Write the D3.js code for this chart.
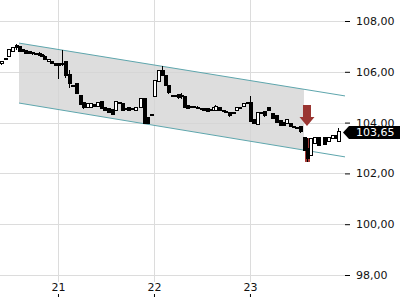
<!DOCTYPE html>
<html><head><meta charset="utf-8">
<script src="https://cdn.jsdelivr.net/npm/d3@7"></script>
<style>
html,body{margin:0;padding:0;background:#fff;}
svg{display:block;font-family:"DejaVu Sans",sans-serif;}
</style></head>
<body><svg id="c" width="400" height="300"></svg>
<script>
// ---- data ----
const times = [20.406,20.448,20.479,20.521,20.563,20.594,20.625,20.656,20.698,20.729,20.760,20.802,20.823,20.854,20.896,20.927,20.969,21.000,21.042,21.073,21.115,21.146,21.188,21.229,21.260,21.302,21.333,21.375,21.406,21.448,21.479,21.521,21.563,21.594,21.635,21.667,21.708,21.729,21.771,21.802,21.854,21.896,21.927,21.969,22.000,22.042,22.083,22.115,22.146,22.188,22.219,22.250,22.281,22.313,22.344,22.385,22.406,22.448,22.490,22.510,22.552,22.583,22.615,22.635,22.677,22.719,22.740,22.781,22.823,22.854,22.885,22.927,22.969,23.000,23.031,23.073,23.115,23.146,23.188,23.229,23.271,23.313,23.344,23.375,23.417,23.448,23.479,23.521,23.563,23.594,23.625,23.667,23.708,23.771,23.813,23.854,23.885,23.917];
const opens = [106.31,106.47,106.62,106.78,107.02,106.98,106.86,106.82,106.78,106.76,106.72,106.74,106.70,106.62,106.39,106.39,106.31,106.31,106.27,106.39,105.91,105.48,105.52,105.05,104.81,104.58,104.61,104.73,104.65,104.85,104.58,104.54,104.50,104.46,104.81,104.77,104.54,104.58,104.54,104.46,104.58,104.93,104.22,104.30,105.01,105.60,106.07,105.87,105.48,105.05,105.07,105.09,105.05,105.01,104.69,104.61,104.62,104.61,104.55,104.54,104.54,104.52,104.46,104.48,104.58,104.46,104.44,104.38,104.36,104.46,104.61,104.65,104.81,104.81,104.14,103.94,104.34,104.42,104.58,104.34,104.26,104.10,104.02,103.98,103.98,103.83,103.79,103.83,103.43,103.00,102.69,103.16,103.43,103.43,103.24,103.39,103.51,103.24];
const highs = [106.43,106.56,106.90,106.96,107.09,107.00,106.88,106.84,106.78,106.78,106.74,106.76,106.72,106.66,106.52,106.41,106.33,106.33,106.86,106.41,106.07,105.50,105.54,105.07,104.83,104.79,104.79,104.75,104.83,104.87,104.60,104.56,104.52,104.87,104.83,104.79,104.58,104.60,104.58,104.63,104.95,104.97,104.24,104.32,105.66,106.09,106.23,105.89,105.50,105.07,105.09,105.11,105.17,105.03,104.71,104.63,104.63,104.65,104.56,104.56,104.56,104.54,104.63,104.69,104.60,104.48,104.46,104.40,104.40,104.63,104.62,104.79,104.83,105.05,104.16,104.40,104.42,104.44,104.60,104.36,104.28,104.12,104.04,104.16,104.00,103.85,103.81,103.85,103.45,103.39,103.41,103.45,103.45,103.45,103.45,103.53,103.53,103.79];
const lows = [106.27,106.45,106.58,106.76,106.86,106.76,106.76,106.72,106.72,106.68,106.68,106.64,106.60,106.45,106.37,106.29,106.23,105.72,106.23,105.76,105.36,105.40,105.11,104.71,104.54,104.56,104.59,104.63,104.63,104.52,104.44,104.36,104.28,104.44,104.73,104.44,104.50,104.44,104.50,104.44,104.56,103.94,103.96,104.28,104.99,105.58,105.82,105.46,105.13,105.03,105.03,104.93,104.93,104.56,104.52,104.59,104.59,104.53,104.51,104.44,104.40,104.44,104.44,104.46,104.44,104.43,104.40,104.24,104.34,104.44,104.53,104.63,104.75,104.04,103.96,103.92,104.32,104.24,104.44,104.16,104.00,103.85,103.85,103.96,103.81,103.77,103.73,103.61,102.88,102.45,102.67,103.14,103.06,103.10,103.22,103.37,103.37,103.22];
const closes = [106.39,106.54,106.86,106.94,106.94,106.78,106.78,106.74,106.74,106.72,106.70,106.66,106.62,106.47,106.50,106.31,106.25,106.25,106.31,105.87,105.52,105.42,105.13,104.73,104.58,104.77,104.77,104.65,104.81,104.54,104.46,104.38,104.30,104.85,104.75,104.46,104.52,104.46,104.52,104.61,104.93,103.98,103.98,104.30,105.64,106.07,105.84,105.48,105.17,105.05,105.05,104.97,105.01,104.58,104.54,104.62,104.61,104.55,104.53,104.46,104.42,104.46,104.61,104.65,104.46,104.45,104.42,104.26,104.38,104.61,104.61,104.77,104.77,104.06,103.98,104.38,104.40,104.26,104.46,104.18,104.02,103.87,103.87,104.14,103.83,103.79,103.75,103.63,102.92,102.57,103.39,103.43,103.08,103.12,103.43,103.51,103.39,103.65];
const yTicks = [98, 100, 102, 104, 106, 108];
const xTicks = [21, 22, 23];
const channelStart = 20.594, channelEnd = 23.990, shadeEnd = 23.5625;
const upperChannel = [107.13, 105.05];
const lowerChannel = [104.77, 102.65];
const lastPrice = 103.65;
const highlightIndex = 89;
const signalTime = 23.594, signalPrice = 103.87;

// ---- layout ----
const W = 400, H = 300, plotR = 345, plotB = 282, axisY = 297;
const svg = d3.select("#c");
const x = d3.scaleLinear().domain([20.396, 23.990]).range([0, plotR]);
const y = d3.scaleLinear().domain([98, 108]).range([275, 21]);
const fmt = d => d.toFixed(2).replace(".", ",");

// grid
svg.append("g").selectAll("line").data(yTicks).join("line")
  .attr("x1", 0).attr("x2", plotR).attr("y1", d => Math.round(y(d)) + 0.5).attr("y2", d => Math.round(y(d)) + 0.5)
  .attr("stroke", "#dcdcdc");
svg.append("g").selectAll("line").data(xTicks).join("line")
  .attr("y1", 0).attr("y2", plotB).attr("x1", d => Math.round(x(d)) + 0.5).attr("x2", d => Math.round(x(d)) + 0.5)
  .attr("stroke", "#dcdcdc");

// channel
const lerp = (arr, t) => arr[0] + (arr[1] - arr[0]) * (t - channelStart) / (channelEnd - channelStart);
const poly = [
  [channelStart, upperChannel[0]], [shadeEnd, lerp(upperChannel, shadeEnd)],
  [shadeEnd, lerp(lowerChannel, shadeEnd)], [channelStart, lowerChannel[0]]
];
svg.append("path")
  .attr("d", d3.line().x(d => x(d[0])).y(d => y(d[1]))(poly) + "Z")
  .attr("fill", "#d4d4d4").attr("fill-opacity", 0.8);
[upperChannel, lowerChannel].forEach(c => {
  svg.append("line")
    .attr("x1", x(channelStart)).attr("y1", y(c[0]))
    .attr("x2", x(channelEnd)).attr("y2", y(c[1]))
    .attr("stroke", "#5ea6ad").attr("stroke-width", 1);
});

// candles
const candles = times.map((t, i) => ({t, o: opens[i], h: highs[i], l: lows[i], c: closes[i], i}));
const hl = candles[highlightIndex];
svg.append("rect")
  .attr("x", Math.round(x(hl.t)) - 2).attr("width", 5)
  .attr("y", y(hl.h)).attr("height", y(hl.l) - y(hl.h))
  .attr("fill", "#a63a36");

const cg = svg.append("g").attr("shape-rendering", "crispEdges");
candles.forEach(d => {
  const cx = Math.round(x(d.t)) + 0.5;
  const up = d.c > d.o;
  cg.append("line").attr("x1", cx).attr("x2", cx)
    .attr("y1", y(d.h)).attr("y2", y(d.l)).attr("stroke", "#000");
  const top = y(Math.max(d.o, d.c)), bot = y(Math.min(d.o, d.c));
  cg.append("rect")
    .attr("x", cx - 1.5).attr("width", 3)
    .attr("y", top).attr("height", Math.max(1, bot - top))
    .attr("fill", up ? "#fff" : "#000").attr("stroke", "#000").attr("stroke-width", 1);
});

// signal arrow
const ax = x(signalTime), ay = y(signalPrice);
svg.append("path")
  .attr("d", `M${ax},${ay} L${ax - 7.5},${ay - 9} L${ax - 4},${ay - 9} L${ax - 4},${ay - 21} L${ax + 4},${ay - 21} L${ax + 4},${ay - 9} L${ax + 7.5},${ay - 9} Z`)
  .attr("fill", "#9a3531");

// y axis
const yAxis = svg.append("g").attr("transform", `translate(${plotR},0)`)
  .call(d3.axisRight(y).tickValues(yTicks).tickSize(5).tickPadding(6).tickFormat(fmt));
yAxis.select(".domain").remove();
yAxis.selectAll("line").attr("stroke", "#000");
yAxis.selectAll("text").attr("font-size", 11).attr("fill", "#111").attr("font-family", "DejaVu Sans");

// x axis
const xAxis = svg.append("g").attr("transform", `translate(0,${axisY})`)
  .call(d3.axisTop(x).tickValues(xTicks).tickSize(3).tickPadding(3).tickFormat(d3.format("d")));
xAxis.select(".domain").remove();
xAxis.selectAll("line").attr("stroke", "#000");
xAxis.selectAll("text").attr("font-size", 11).attr("fill", "#111").attr("font-family", "DejaVu Sans");

// last price label
const ly = y(lastPrice) + 1;
svg.append("path")
  .attr("d", `M${plotR - 2},${ly} L${plotR + 4},${ly - 6.5} L${W},${ly - 6.5} L${W},${ly + 6.5} L${plotR + 4},${ly + 6.5} Z`)
  .attr("fill", "#000");
svg.append("text").attr("x", plotR + 11).attr("y", ly).attr("dy", "0.36em")
  .attr("fill", "#fff").attr("font-size", 11).attr("font-family", "DejaVu Sans")
  .text(fmt(lastPrice));
</script></body></html>
